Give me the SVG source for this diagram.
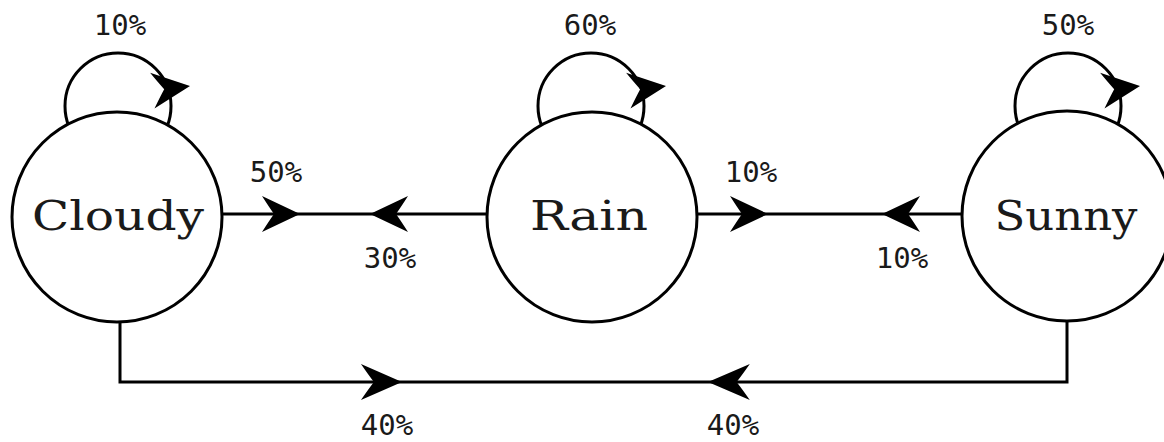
<svg xmlns="http://www.w3.org/2000/svg" xmlns:xlink="http://www.w3.org/1999/xlink" width="1164" height="442" viewBox="0 0 1164 442">
  <style>
    .edge { fill: none; stroke: #000; stroke-width: 3; }
    .node { fill: #fff; stroke: #000; stroke-width: 3; }
    .name { font-family: "DejaVu Serif", "Liberation Serif", serif; font-size: 41px; fill: #1a1a1a; text-anchor: middle; }
    .pct { font-family: "DejaVu Sans Mono", "Liberation Mono", monospace; font-size: 29px; fill: #1a1a1a; text-anchor: middle; }
    .head { fill: #000; stroke: none; }
  </style>
  <defs>
    <path id="ah" d="M0,0 L-38,-18 Q-31,-7 -26,0 Q-31,7 -38,18 Z"/>
  </defs>
  <rect width="1164" height="442" fill="#fff"/>
  <g id="connectors">
    <circle class="edge" cx="118" cy="106" r="53"/>
    <circle class="edge" cx="591" cy="106" r="53"/>
    <circle class="edge" cx="1068" cy="106" r="53"/>
    <path class="edge" d="M222,214 H487"/>
    <path class="edge" d="M697,214 H962"/>
    <path class="edge" d="M120,321 V382 H1067 V321"/>
    <use xlink:href="#ah" class="head" transform="translate(190,86) rotate(-7)"/>
    <use xlink:href="#ah" class="head" transform="translate(666,86) rotate(-7)"/>
    <use xlink:href="#ah" class="head" transform="translate(1140,86) rotate(-7)"/>
    <use xlink:href="#ah" class="head" transform="translate(300,214)"/>
    <use xlink:href="#ah" class="head" transform="translate(370,214) rotate(180)"/>
    <use xlink:href="#ah" class="head" transform="translate(768,214)"/>
    <use xlink:href="#ah" class="head" transform="translate(882,214) rotate(180)"/>
    <use xlink:href="#ah" class="head" transform="translate(402,382) scale(1.08,1)"/>
    <use xlink:href="#ah" class="head" transform="translate(708,382) rotate(180) scale(1.1,1)"/>
    <text class="pct" x="120" y="35">10%</text>
    <text class="pct" x="590" y="35">60%</text>
    <text class="pct" x="1068" y="35">50%</text>
    <text class="pct" x="276" y="182">50%</text>
    <text class="pct" x="390" y="268">30%</text>
    <text class="pct" x="751" y="182">10%</text>
    <text class="pct" x="902" y="268">10%</text>
    <text class="pct" x="387" y="435">40%</text>
    <text class="pct" x="733" y="435">40%</text>
  </g>
  <g id="node-cloudy">
    <circle class="node" cx="117" cy="217" r="105"/>
    <text class="name" x="118" y="230" textLength="172" lengthAdjust="spacingAndGlyphs">Cloudy</text>
  </g>
  <g id="node-rain">
    <circle class="node" cx="592" cy="217" r="105"/>
    <text class="name" x="589" y="230" textLength="118" lengthAdjust="spacingAndGlyphs">Rain</text>
  </g>
  <g id="node-sunny">
    <circle class="node" cx="1067" cy="216" r="105"/>
    <text class="name" x="1066" y="230" textLength="143" lengthAdjust="spacingAndGlyphs">Sunny</text>
  </g>
</svg>
